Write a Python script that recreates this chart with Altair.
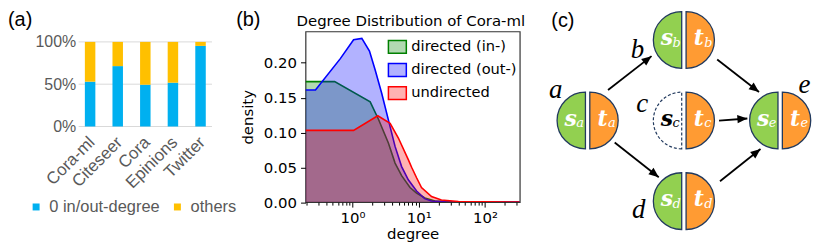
import math
import altair as alt
import pandas as pd

# ---------------- (a) share of nodes with 0 in/out-degree ----------------
datasets = ["Cora-ml", "Citeseer", "Cora", "Epinions", "Twitter"]
zero_degree = [0.53, 0.714, 0.494, 0.518, 0.953]
others = [0.47, 0.286, 0.506, 0.482, 0.047]
groups_a = ["0 in/out-degree", "others"]
colors_a = ["#00B0F0", "#FFC000"]
pct_ticks = [0.0, 0.5, 1.0]

# ---------------- (b) degree distribution of Cora-ml ----------------
in_degree = [0.1945, 0.536, 1.845, 2.46, 3.475, 4.385, 5.508, 7.38, 9.27, 12.39, 17.54, 31.6, 336]
in_density = [0.173, 0.173, 0.144, 0.119, 0.085, 0.056, 0.038, 0.021, 0.013, 0.006, 0.0015, 0.0003, 0.0]
out_degree = [0.1945, 0.275, 0.653, 1.035, 1.38, 1.80, 2.19, 2.76, 3.475, 4.385, 5.508, 6.95, 9.27, 12.3, 15.5, 25.0, 336]
out_density = [0.161, 0.161, 0.206, 0.233, 0.235, 0.217, 0.190, 0.156, 0.118, 0.080, 0.051, 0.032, 0.016, 0.005, 0.0015, 0.0003, 0.0]
und_degree = [0.1945, 1.035, 2.404, 3.69, 4.92, 6.95, 7.80, 9.27, 11.0, 15.6, 22.0, 39.8, 100.0, 336]
und_density = [0.103, 0.103, 0.124, 0.113, 0.092, 0.061, 0.050, 0.035, 0.021, 0.008, 0.003, 0.001, 0.0003, 0.0]
series_b = ["directed (in-)", "directed (out-)", "undirected"]
colors_b = ["#008000", "#0000FF", "#FF0000"]
density_ticks = [0.0, 0.05, 0.10, 0.15, 0.20]
degree_major = [1, 10, 100]
degree_major_labels = ["10⁰", "10¹", "10²"]
degree_minor = [0.2, 0.3, 0.4, 0.5, 0.6, 0.7, 0.8, 0.9,
                2, 3, 4, 5, 6, 7, 8, 9,
                20, 30, 40, 50, 60, 70, 80, 90, 200, 300]
title_b = "Degree Distribution of Cora-ml"

# ---------------- (c) diagram ----------------
nodes = ["a", "b", "c", "d", "e"]
node_col = [0, 1, 1, 1, 2]
node_row = [0, 1, 0, -1, 0]
node_has_source = [True, True, False, True, True]
label_col = [-0.331, 0.519, 0.566, 0.530, 2.253]
label_row = [0.284, 0.778, 0.111, -1.210, 0.346]
edge_src = ["a", "a", "b", "c", "d"]
edge_dst = ["b", "d", "e", "e", "e"]
edge_x0 = [0.212, 0.281, 1.346, 1.365, 1.375]
edge_y0 = [0.379, -0.272, 0.757, 0.0, -0.753]
edge_x1 = [0.664, 0.739, 1.780, 1.659, 1.796]
edge_y1 = [0.799, -0.704, 0.354, 0.025, -0.354]

panel_tags = ["(a)", "(b)", "(c)"]

FONT_A = "Liberation Sans, Arial, sans-serif"
FONT_B = "DejaVu Sans"
GRAY = "#595959"


def tag_layer(tag, x, y):
    return alt.Chart(pd.DataFrame({"tag": [tag]})).mark_text(
        font=FONT_A, fontSize=20, align="left", baseline="alphabetic", color="black"
    ).encode(text="tag:N", x=alt.value(x), y=alt.value(y))


# ================= panel (a) =================
df_a = pd.DataFrame({
    "dataset": datasets * 2,
    "group": [groups_a[0]] * len(datasets) + [groups_a[1]] * len(datasets),
    "share": zero_degree + others,
    "stack_order": [0] * len(datasets) + [1] * len(datasets),
})
y_a = alt.Scale(domain=[0, 95.5 / 85.0], nice=False, zero=True)
y_axis_a = alt.Axis(values=pct_ticks, format=".0%", grid=False, ticks=False, domain=False,
                    title=None, labelFont=FONT_A, labelFontSize=16, labelColor=GRAY,
                    labelPadding=3)

grid_a = alt.Chart(pd.DataFrame({"share": pct_ticks})).mark_rule(
    color="#D9D9D9", strokeWidth=1
).encode(y=alt.Y("share:Q", scale=y_a, axis=y_axis_a), x=alt.value(0), x2=alt.value(134))

bars_a = alt.Chart(df_a).mark_bar().encode(
    x=alt.X("dataset:N", sort=datasets,
            scale=alt.Scale(range=[0, 134], paddingInner=0.62, paddingOuter=0.225),
            axis=alt.Axis(title=None, labelAngle=-45, labelAlign="right", labelBaseline="middle",
                          labelFont=FONT_A, labelFontSize=17, labelColor=GRAY, ticks=False,
                          domain=False, labelPadding=13, labelOffset=2)),
    y=alt.Y("share:Q", stack="zero", scale=y_a, axis=y_axis_a),
    color=alt.Color("group:N", scale=alt.Scale(domain=groups_a, range=colors_a),
                    legend=alt.Legend(orient="none", legendX=-51, legendY=168,
                                      direction="horizontal", title=None, symbolType="square",
                                      symbolSize=49, symbolStrokeWidth=0, labelFont=FONT_A,
                                      labelFontSize=16.5, labelColor=GRAY, labelOffset=5,
                                      columnPadding=9, padding=0)),
    order=alt.Order("stack_order:Q"),
)

chart_a = alt.layer(grid_a, bars_a, tag_layer(panel_tags[0], -71, -5.5)).properties(
    width=219.7, height=95.5)

# ================= panel (b) =================
df_b = pd.DataFrame({
    "series": [series_b[0]] * len(in_degree) + [series_b[1]] * len(out_degree) + [series_b[2]] * len(und_degree),
    "degree": in_degree + out_degree + und_degree,
    "density": in_density + out_density + und_density,
})
x_b = alt.Scale(type="log", domain=[0.1945, 336], nice=False)
y_b = alt.Scale(domain=[0, 171.5 / 700.0], nice=False, zero=True)

label_expr = " : ".join(
    f"datum.value == {v} ? '{l}'" for v, l in zip(degree_major[:-1], degree_major_labels[:-1])
) + f" : '{degree_major_labels[-1]}'"

x_axis_b = alt.Axis(values=degree_major, labelExpr=label_expr, title="degree", orient="bottom",
                    grid=False, domain=False, tickSize=5, tickColor="black", tickWidth=1,
                    labelFont=FONT_B, labelFontSize=15, labelColor="black", labelPadding=3,
                    titleFont=FONT_B, titleFontSize=15, titleFontWeight="normal",
                    titleColor="black", titlePadding=2)
y_axis_b = alt.Axis(values=density_ticks, format=".2f", title="density", grid=False, domain=False,
                    tickSize=5, tickColor="black", tickWidth=1, labelFont=FONT_B, labelFontSize=15,
                    labelColor="black", labelPadding=4, titleFont=FONT_B, titleFontSize=15,
                    titleFontWeight="normal", titleColor="black", titlePadding=8)

curve_layers = []
for s, c in zip(series_b, colors_b):
    base = alt.Chart(df_b).transform_filter(alt.datum.series == s).encode(
        x=alt.X("degree:Q", scale=x_b, axis=x_axis_b),
        y=alt.Y("density:Q", scale=y_b, axis=y_axis_b),
    )
    curve_layers.append(base.mark_area(color=c, fillOpacity=0.3, clip=True))
    curve_layers.append(base.mark_line(color=c, strokeWidth=1.6, clip=True))
curves = alt.layer(*curve_layers)

minor_b = alt.Chart(pd.DataFrame({"minor": degree_minor})).mark_point(opacity=0).encode(
    x=alt.X("minor:Q", scale=x_b,
            axis=alt.Axis(values=degree_minor, labels=False, tickSize=3, domain=False, grid=False,
                          title=None, orient="bottom", tickColor="black", tickWidth=1)))

df_leg = pd.DataFrame({"series": series_b, "slot": [0, 1, 2]})
leg_y = alt.Y("slot:Q", scale=alt.Scale(domain=[0, 2], range=[15.5, 62]), axis=None)
col_scale = alt.Scale(domain=series_b, range=colors_b)
leg_patch = alt.Chart(df_leg).mark_point(
    shape="M-1,-0.72L1,-0.72L1,0.72L-1,0.72Z", size=324, filled=True, opacity=1,
    fillOpacity=0.3, strokeOpacity=1, strokeWidth=1.5
).encode(x=alt.value(92.3), y=leg_y,
         fill=alt.Fill("series:N", scale=col_scale, legend=None),
         stroke=alt.Stroke("series:N", scale=col_scale, legend=None))
leg_text = alt.Chart(df_leg).mark_text(
    font=FONT_B, fontSize=14.7, align="left", baseline="middle", color="black"
).encode(x=alt.value(106.3), y=leg_y, text="series:N")

title_layer = alt.Chart(pd.DataFrame({"title": [title_b]})).mark_text(
    font=FONT_B, fontSize=15, align="center", baseline="alphabetic", color="black"
).encode(text="title:N", x=alt.value(105.8), y=alt.value(-5.2))

chart_b = alt.layer(
    curves, minor_b, leg_patch, leg_text, title_layer, tag_layer(panel_tags[1], -69.7, -5.5)
).resolve_axis(x="independent").resolve_scale(y="independent").properties(
    width=215.3, height=171.5,
    view=alt.ViewBackground(stroke="#333333", strokeWidth=1.2))

# ================= panel (c) =================
px_col = (253 - 59.5) / 2
px_row = (170.5 - 8.5) / 2
x_c = alt.Scale(domain=[0, 2], range=[59.5, 253], nice=False, zero=False)
y_c = alt.Scale(domain=[-1, 1], range=[170.5, 8.5], nice=False, zero=False)

df_nodes = pd.DataFrame({
    "node": nodes, "col": node_col, "row": node_row, "has_source": node_has_source,
    "label_col": label_col, "label_row": label_row,
})
df_edges = pd.DataFrame({"src": edge_src, "dst": edge_dst, "x0": edge_x0, "y0": edge_y0,
                         "x1": edge_x1, "y1": edge_y1})
df_edges["angle"] = [
    math.degrees(math.atan2((b - a) * px_col, (d - c) * px_row)) % 360
    for a, b, c, d in zip(df_edges.x0, df_edges.x1, df_edges.y0, df_edges.y1)
]

NAVY = "#223A5E"
GREEN = "#92D050"
ORANGE = "#FF9B33"

ex = alt.X("col:Q", scale=x_c, axis=None)
ey = alt.Y("row:Q", scale=y_c, axis=None)

edges = alt.Chart(df_edges).mark_rule(color="black", strokeWidth=1.8).encode(
    x=alt.X("x0:Q", scale=x_c, axis=None), y=alt.Y("y0:Q", scale=y_c, axis=None),
    x2="x1:Q", y2="y1:Q")
heads = alt.Chart(df_edges).mark_point(
    shape="M0,0L0.5,1.2L-0.5,1.2Z", size=278, filled=True, opacity=1, color="black", strokeWidth=0
).encode(x=alt.X("x1:Q", scale=x_c, axis=None), y=alt.Y("y1:Q", scale=y_c, axis=None),
         angle=alt.Angle("angle:Q", scale=None))

node_base = alt.Chart(df_nodes).encode(x=ex, y=ey)
left_full = node_base.transform_filter("datum.has_source").mark_arc(
    theta=math.pi, theta2=2 * math.pi, radius=28.5, xOffset=-2.2,
    fill=GREEN, stroke=NAVY, strokeWidth=1.3)
left_empty = node_base.transform_filter("!datum.has_source").mark_arc(
    theta=math.pi, theta2=2 * math.pi, radius=28.5, xOffset=-2.2,
    fill="white", stroke=NAVY, strokeWidth=1.2, strokeDash=[3, 2])
right_half = node_base.mark_arc(
    theta=0, theta2=math.pi, radius=28.5, xOffset=2.2,
    fill=ORANGE, stroke=NAVY, strokeWidth=1.3)

s_color = alt.condition("datum.has_source", alt.value("white"), alt.value("black"))
s_text = node_base.mark_text(
    text="s", font="DejaVu Serif", fontStyle="italic", fontWeight="bold", fontSize=22,
    align="center", baseline="alphabetic", dx=-17, dy=5).encode(color=s_color)
s_sub = node_base.mark_text(
    font="DejaVu Serif", fontStyle="italic", fontSize=13,
    align="left", baseline="alphabetic", dx=-11.5, dy=7).encode(text="node:N", color=s_color)
t_text = node_base.mark_text(
    text="t", font="DejaVu Serif", fontStyle="italic", fontWeight="bold", fontSize=22,
    align="center", baseline="alphabetic", dx=15, dy=5, color="white")
t_sub = node_base.mark_text(
    font="DejaVu Serif", fontStyle="italic", fontSize=13,
    align="left", baseline="alphabetic", dx=20.5, dy=7, color="white").encode(text="node:N")
node_labels = alt.Chart(df_nodes).mark_text(
    font="Liberation Serif", fontStyle="italic", fontSize=27, align="center",
    baseline="alphabetic", color="black"
).encode(x=alt.X("label_col:Q", scale=x_c, axis=None),
         y=alt.Y("label_row:Q", scale=y_c, axis=None), text="node:N")

chart_c = alt.layer(
    edges, heads, left_full, left_empty, right_half, s_text, s_sub, t_text, t_sub, node_labels,
    tag_layer(panel_tags[2], 23, -4.5)
).properties(width=284, height=205)

chart = alt.hconcat(chart_a, chart_b, chart_c, spacing=8, bounds="flush").configure_view(
    strokeWidth=0).properties(padding=0)

chart.save("out.html", embed_options={"renderer": "svg", "actions": False})
